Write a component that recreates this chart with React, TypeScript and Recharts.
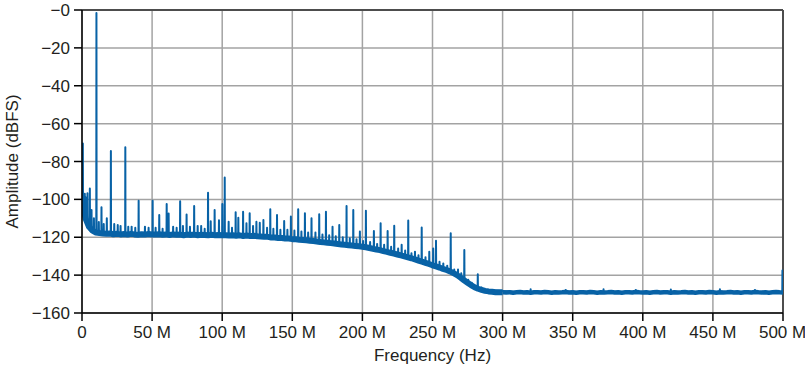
import { LineChart, Line, XAxis, YAxis, CartesianGrid, ReferenceLine } from 'recharts';

// noise floor, one sample every 2.5 MHz from 0 to 500 MHz (dBFS)
const FLOOR_STEP = 2.5;
const floorDb = [
  -100, -110, -114.5, -116.5, -117.5, -117.8, -118, -118.2, -118, -118.4, -118.2,
  -118.5, -118.3, -118.6, -118.2, -118.5, -118.7, -118.4, -118.6, -118.3, -118.5,
  -118.6, -118.4, -118.7, -118.5, -118.8, -118.5, -118.7, -118.6, -118.9, -118.6,
  -118.8, -118.6, -118.9, -118.7, -118.8, -119, -118.7, -118.9, -118.8, -119,
  -118.9, -119.1, -118.9, -119.2, -119, -119.3, -119.1, -119.4, -119.2, -119.5,
  -119.6, -119.8, -119.8, -120.1, -120.1, -120.4, -120.4, -120.7, -120.7, -121,
  -121.1, -121.3, -121.4, -121.6, -121.8, -122, -122.2, -122.5, -122.7, -122.9,
  -123.1, -123.3, -123.6, -123.8, -124, -124.2, -124.4, -124.6, -124.8, -125,
  -125.3, -125.7, -126.1, -126.5, -126.8, -127.3, -127.7, -128.2, -128.6, -129.1,
  -129.6, -130.1, -130.6, -131.1, -131.7, -132.3, -132.9, -133.5, -134.1, -134.8,
  -135.4, -136, -136.7, -137.3, -138, -139, -140, -141.3, -142.7, -144,
  -145.3, -146.4, -147.2, -147.8, -148.3, -148.6, -148.8, -149, -149.1, -149.1,
  -149.2, -149.0, -149.3, -149.1, -148.9, -149.2, -149.0, -149.3, -149.1, -149.0,
  -149.2, -148.9, -149.1, -149.3, -149.0, -149.2, -149.1, -148.9, -149.2, -149.0,
  -149.3, -149.1, -149.0, -149.2, -148.9, -149.1, -149.3, -149.0, -149.2, -149.1,
  -148.9, -149.2, -149.0, -149.3, -149.1, -149.0, -149.2, -148.9, -149.1, -149.2,
  -149.0, -149.3, -149.1, -148.9, -149.2, -149.0, -149.1, -149.3, -149.0, -149.2,
  -149.1, -148.9, -149.2, -149.0, -149.3, -149.1, -149.0, -149.2, -148.9, -149.1,
  -149.3, -149.0, -149.2, -149.1, -148.9, -149.2, -149.0, -149.3, -149.1, -149.0,
  -149.2, -148.9, -149.1, -149.2, -149.0, -149.3, -149.1, -148.9, -149.1, -149.2,
];
// index where the floor flattens out (300 MHz)
const FLAT_FROM = 120;

// spurs: frequency (MHz) and peak level (dBFS)
const spurMHz = [
  0.6, 1.2, 2, 2.8, 3.9, 5.6, 6.8, 8.5, 10.3, 12, 13.9, 15.5, 17.7, 20.6, 23, 25.5, 27.5,
  30.9, 33, 35.4, 38, 40.4, 44.9, 47.5, 50.4, 52.5, 55.1, 57.5, 60.4, 61.8, 65, 67.5,
  70, 72, 74.6, 77, 80, 82.5, 85, 87.5, 89.9, 91.8, 94.6, 97.7, 100.1, 101.8, 104.6, 107,
  109.6, 111.5, 114.9, 117.3, 119.6, 122, 124.4, 126.8, 129.4, 132, 134.3, 136.5, 139.1,
  141.5, 144.2, 146.5, 149, 151.5, 154.2, 156.5, 159, 161.3, 163.7, 166.5, 169.2, 171.5,
  174, 176.3, 178.7, 181, 183.5, 186, 188.7, 191, 193.5, 195.8, 198.2, 200.5, 202.5,
  205.5, 208.2, 210.5, 213, 215.5, 218, 220.5, 222.7, 225.5, 228, 230.5, 232.7, 235,
  237.5, 240, 242.3, 245, 247.7, 250.5, 252.5, 255, 257.7, 260.5, 263, 265.5, 268.2,
  270.5, 272.7, 275.5, 278, 282.3, 285, 320, 345, 372, 395, 420, 455, 480, 499.6,
];
const spurDb = [
  -70.5, -98, -97, -99, -96.8, -94.2, -105.6, -110, -1.6, -112, -104.2, -113, -110, -74.5, -113, -113.5, -114,
  -72.5, -114.5, -114.4, -115, -100.7, -114.4, -115, -100.7, -115, -108.2, -115.5, -102.4, -107.4, -114.5, -115,
  -101, -114, -108, -114.5, -103.5, -114, -114, -115.5, -96.5, -111.5, -105.6, -111, -102.5, -88.4, -111.8, -115,
  -106.8, -109.7, -106.5, -112.6, -107.3, -114, -111.8, -112.3, -110.9, -115, -105.2, -115.5, -108.2,
  -116, -111.4, -116, -109.1, -116.5, -105.2, -117, -107.3, -117.5, -110, -117.5, -107.9, -118.5,
  -106.5, -119, -114.4, -119.5, -113.5, -120, -103.5, -120.5, -105.6, -121, -117, -122, -106,
  -122.5, -116.7, -123.5, -112.6, -124, -116.7, -125, -113.9, -126, -124, -127, -111.2, -128.5,
  -127.6, -129.5, -114.8, -130.5, -127.6, -126, -121.8, -133, -133.8, -135, -117.9, -137, -137,
  -139, -126.7, -142.5, -144, -139.5, -146.5, -147.5, -147.8, -147.5, -147.8, -147.6, -147.5, -147.8, -137.5,
];

const xTicks = [0, 50, 100, 150, 200, 250, 300, 350, 400, 450, 500];
const yTicks = [-160, -140, -120, -100, -80, -60, -40, -20, 0];

const BLUE = '#0862a6';
const INK = '#231f20';
const FONT = '"Liberation Sans", Arial, Helvetica, sans-serif';

const floorData = floorDb.map((v, i) => ({ f: i * FLOOR_STEP, v }));
const floorLow = floorData.slice(0, FLAT_FROM + 1);
const floorFlat = floorData.slice(FLAT_FROM);

const spurData = spurMHz.flatMap((f, i) => {
  const base = floorDb[Math.min(floorDb.length - 1, Math.round(f / FLOOR_STEP))];
  const pts = [{ f: Math.max(0, f - 0.12), v: base }, { f, v: spurDb[i] }];
  if (f + 0.12 <= 500) pts.push({ f: f + 0.12, v: base });
  return pts;
});

const fmtX = (v: number) => (v === 0 ? '0' : `${v} M`);
const fmtY = (v: number) => (v === 0 ? '\u22120' : `\u2212${Math.abs(v)}`);

export default function App() {
  return (
    <div style={{ position: 'absolute', left: 0, top: 0, width: 805, height: 370, background: '#fff' }}>
      <LineChart width={805} height={370} margin={{ top: 10, right: 22, bottom: 27, left: 0 }}>
        <CartesianGrid stroke="#a3a3a3" strokeWidth={1.5} />
        <XAxis
          dataKey="f"
          type="number"
          domain={[0, 500]}
          ticks={xTicks}
          allowDataOverflow
          tickFormatter={fmtX}
          height={30}
          tickSize={8}
          tickMargin={5}
          stroke="#000"
          strokeWidth={1.5}
          tick={{ fill: INK, fontSize: 17, fontFamily: FONT }}
          label={{ value: 'Frequency (Hz)', position: 'bottom', offset: 6, fill: INK, fontSize: 17, fontFamily: FONT }}
        />
        <YAxis
          type="number"
          domain={[-160, 0]}
          ticks={yTicks}
          allowDataOverflow
          tickFormatter={fmtY}
          width={82}
          tickSize={8}
          tickMargin={4}
          stroke="#000"
          strokeWidth={1.5}
          tick={{ fill: INK, fontSize: 17, fontFamily: FONT }}
          label={{
            value: 'Amplitude (dBFS)',
            angle: -90,
            position: 'insideLeft',
            offset: 12,
            fill: INK,
            fontSize: 17,
            fontFamily: FONT,
            style: { textAnchor: 'middle' },
          }}
        />
        <ReferenceLine y={0} stroke="#4d4d4d" strokeWidth={2} />
        <ReferenceLine x={500} stroke="#4d4d4d" strokeWidth={2} />
        <Line
          data={floorLow}
          dataKey="v"
          type="linear"
          dot={false}
          stroke={BLUE}
          strokeWidth={6}
          strokeLinejoin="round"
          isAnimationActive={false}
        />
        <Line
          data={floorFlat}
          dataKey="v"
          type="linear"
          dot={false}
          stroke={BLUE}
          strokeWidth={4.5}
          strokeLinejoin="round"
          isAnimationActive={false}
        />
        <Line
          data={spurData}
          dataKey="v"
          type="linear"
          dot={false}
          stroke={BLUE}
          strokeWidth={2}
          strokeLinejoin="round"
          isAnimationActive={false}
        />
      </LineChart>
    </div>
  );
}
